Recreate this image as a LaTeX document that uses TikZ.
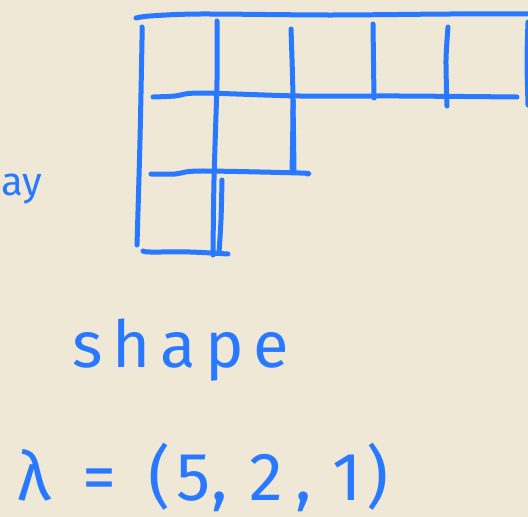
\documentclass[tikz,border=0pt]{standalone}
\usepackage{fontspec}
\setmainfont{Fira Sans}
\definecolor{handblue}{RGB}{40,121,255}
\definecolor{paper}{RGB}{240,232,215}
\tikzset{
  pen/.style={draw=handblue, line width=5pt, line cap=round, line join=round},
  handtext/.style={text=handblue, inner sep=0pt}
}
\begin{document}
\begin{tikzpicture}[x=1pt,y=-1pt]
\fill[paper] (0,0) rectangle (528,517);
\useasboundingbox (0,0) rectangle (528,517);
\begin{scope}
\clip (0,0) rectangle (528,517);
% grid lines
\draw[pen] plot[smooth] coordinates {(136,18) (150,16) (200,14) (330,15) (450,14) (540,14)};
\draw[pen] plot[smooth] coordinates {(142,27) (142,40) (140,140) (137,245)};
\draw[pen] plot[smooth] coordinates {(217,21) (217,80) (214,180) (213,255)};
\draw[pen] plot[smooth] coordinates {(291,29) (293,100) (292,172)};
\draw[pen] (293,100) -- (294,170);
\draw[pen] plot[smooth] coordinates {(373,24) (374,98)};
\draw[pen] plot[smooth] coordinates {(448,27) (446,60) (447,106)};
\draw[pen] plot[smooth] coordinates {(528,22) (527,60) (528,105)};
\draw[pen] plot[smooth] coordinates {(153,97) (175,96) (200,93) (300,96) (400,96) (517,97)};
\draw[pen] plot[smooth] coordinates {(151,174) (175,174) (200,171) (300,173) (307,174)};
\draw[pen] plot[smooth] coordinates {(222,180) (221,220) (219,253)};
\draw[pen] plot[smooth] coordinates {(143,251) (150,252) (190,252) (228,254)};
\end{scope}
% text
\node[handtext, anchor=base west, font=\fontsize{40}{40}\selectfont] (ay) at (1,195) {ay};
\node[handtext, anchor=base west, font=\fontsize{65}{65}\selectfont\addfontfeatures{LetterSpace=15}] (shape) at (72,367) {shape};
\node[handtext, anchor=base west, font=\fontsize{68}{68}\selectfont] (lambda) at (17,500)
  {λ\hspace{32pt}=\hspace{32pt}(\hspace{6pt}5\hspace{1pt},\hspace{22pt}2\hspace{12pt},\hspace{21pt}1\hspace{4pt})};
\end{tikzpicture}
\end{document}
